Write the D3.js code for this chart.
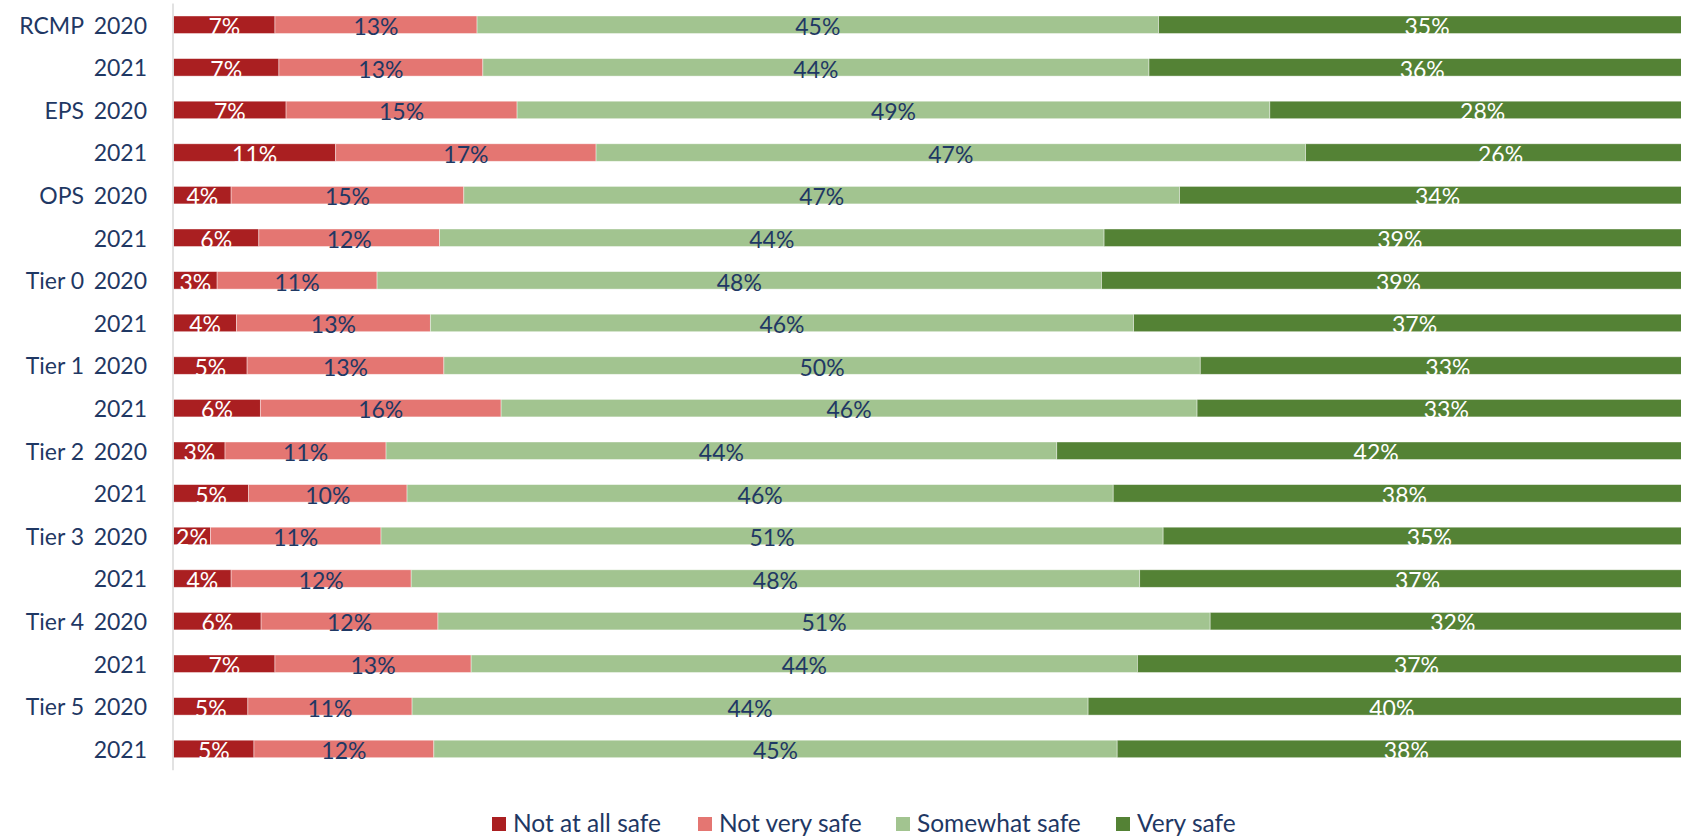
<!DOCTYPE html>
<html>
<head>
<meta charset="utf-8">
<script src="https://cdn.jsdelivr.net/npm/d3@7"></script>
<style>
  html, body { margin: 0; padding: 0; background: #ffffff; }
  svg { display: block; }
  text { font-family: Lato, "Open Sans", "Liberation Sans", sans-serif; }
</style>
</head>
<body>
<svg id="chart" width="1681" height="836"></svg>
<script>
// ---- data ----
const groups = ["RCMP","RCMP","EPS","EPS","OPS","OPS","Tier 0","Tier 0","Tier 1","Tier 1",
                "Tier 2","Tier 2","Tier 3","Tier 3","Tier 4","Tier 4","Tier 5","Tier 5"];
const years = ["2020","2021","2020","2021","2020","2021","2020","2021","2020","2021",
               "2020","2021","2020","2021","2020","2021","2020","2021"];
const seriesNames = ["Not at all safe","Not very safe","Somewhat safe","Very safe"];
const notAtAllSafe = [6.66, 6.92, 7.39, 10.65, 3.78, 5.60, 2.86, 4.13, 4.83, 5.70, 3.38, 4.93, 2.42, 3.78, 5.75, 6.66, 4.88, 5.28];
const notVerySafe  = [13.28, 13.40, 15.18, 17.11, 15.29, 11.88, 10.51, 12.74, 12.93, 15.82, 10.58, 10.41, 11.21, 11.83, 11.62, 12.89, 10.79, 11.82];
const somewhatSafe = [44.78, 43.77, 49.46, 46.62, 47.03, 43.66, 47.60, 46.21, 49.70, 45.73, 44.07, 46.40, 51.39, 47.87, 50.74, 43.78, 44.42, 44.90];
const verySafe     = [35.28, 35.91, 27.97, 25.62, 33.90, 38.86, 39.03, 36.92, 32.54, 32.75, 41.97, 38.26, 34.98, 36.52, 31.89, 36.67, 39.91, 38.00];

// ---- styles ----
const colors = ["#aa1f21", "#e47672", "#a2c490", "#548235"];
const labelColors = ["#ffffff", "#1f3864", "#1f3864", "#ffffff"];
const textColor = "#1f3864";
const fontSize = 23;
const legendFontSize = 24.5;
const legendX = [492, 698, 896, 1116];

const seriesValues = [notAtAllSafe, notVerySafe, somewhatSafe, verySafe];
const rows = groups.map((g, i) => {
  const r = { idx: i, group: g, year: years[i] };
  seriesNames.forEach((s, k) => { r[s] = seriesValues[k][i]; });
  return r;
});

const svg = d3.select("#chart");
svg.append("rect").attr("width", 1681).attr("height", 836).attr("fill", "#ffffff");

const x = d3.scaleLinear().domain([0, 100]).range([173.6, 1695.5]);
const y = d3.scaleBand().domain(rows.map(d => d.idx)).range([3.45, 770.25])
  .paddingInner(0.589).paddingOuter(0.2945);

const stack = d3.stack().keys(seriesNames);
const stacked = stack(rows);

const layers = svg.append("g").selectAll("g").data(stacked).join("g")
  .attr("fill", (d, k) => colors[k]);

layers.selectAll("rect").data(d => d).join("rect")
  .attr("x", d => x(d[0]))
  .attr("y", d => y(d.data.idx))
  .attr("width", d => x(d[1]) - x(d[0]))
  .attr("height", y.bandwidth())
  .attr("stroke", "#ffffff")
  .attr("stroke-opacity", 0.55)
  .attr("stroke-width", 0.75);

// data labels
const labelLayers = svg.append("g").selectAll("g").data(stacked).join("g")
  .attr("fill", (d, k) => labelColors[k]);
labelLayers.selectAll("text").data(d => d).join("text")
  .attr("x", d => (x(d[0]) + x(d[1])) / 2)
  .attr("y", d => y(d.data.idx) + y.bandwidth() + 1.5)
  .attr("text-anchor", "middle")
  .attr("font-size", fontSize)
  .text(d => Math.round(d[1] - d[0]) + "%");

// axis line
svg.append("line")
  .attr("x1", 173).attr("x2", 173)
  .attr("y1", y.range()[0]).attr("y2", y.range()[1])
  .attr("stroke", "#d9d9d9").attr("stroke-width", 1.5);

// category labels
const yl = svg.append("g").attr("fill", textColor).attr("font-size", fontSize);
yl.selectAll("text.year").data(rows).join("text").attr("class", "year")
  .attr("x", 147).attr("y", d => y(d.idx) + y.bandwidth())
  .attr("text-anchor", "end").text(d => d.year);
yl.selectAll("text.grp").data(rows.filter((d, i) => i === 0 || groups[i - 1] !== d.group))
  .join("text").attr("class", "grp")
  .attr("x", 84).attr("y", d => y(d.idx) + y.bandwidth())
  .attr("text-anchor", "end").text(d => d.group);

// legend
const leg = svg.append("g");
const items = leg.selectAll("g").data(seriesNames).join("g")
  .attr("transform", (d, k) => "translate(" + legendX[k] + ",0)");
items.append("rect").attr("width", 14).attr("height", 14).attr("y", 817)
  .attr("fill", (d, k) => colors[k]);
items.append("text").attr("x", 21).attr("y", 832).attr("font-size", legendFontSize)
  .attr("fill", textColor).text(d => d);
</script>
</body>
</html>
